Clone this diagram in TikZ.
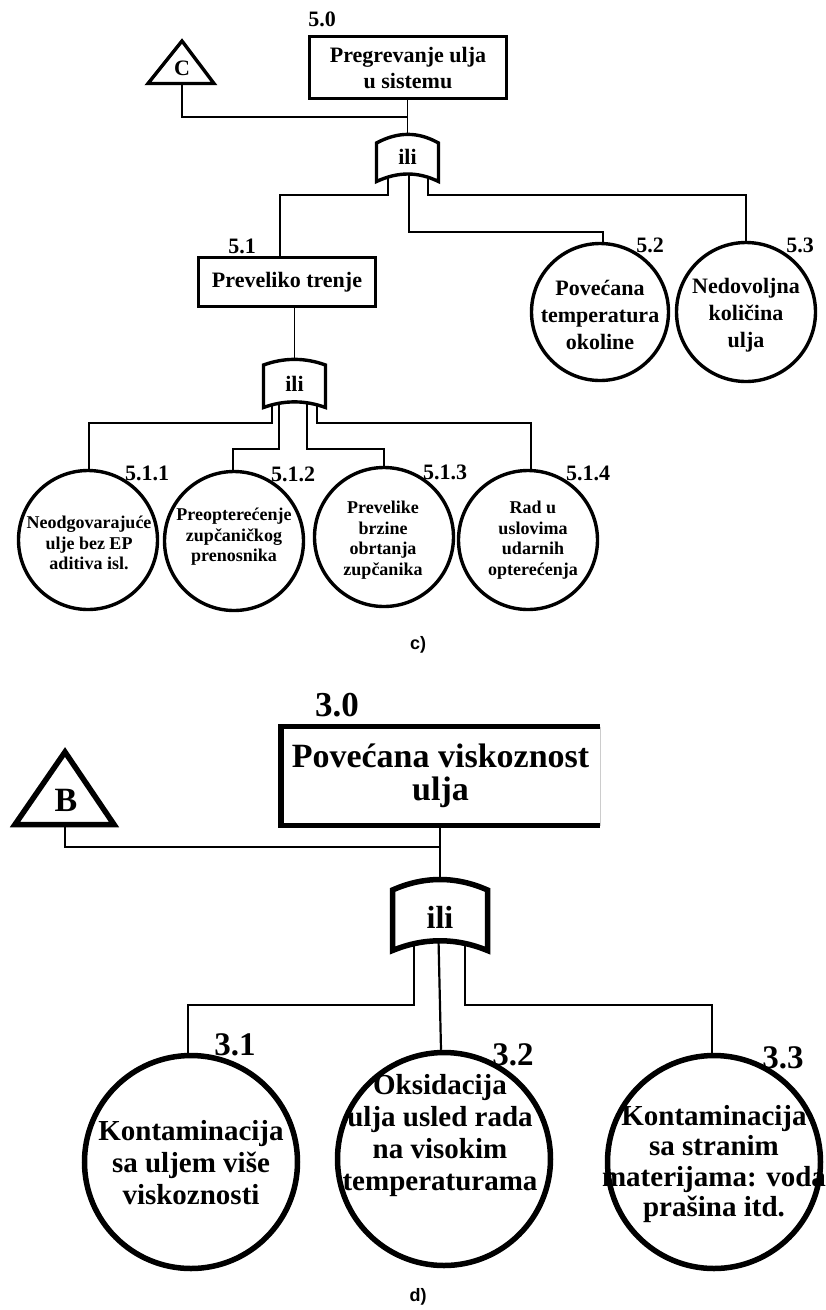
\documentclass[tikz,border=0pt]{standalone}
\usepackage{fontspec}
\setmainfont{Liberation Serif}
\newfontfamily\capfont{Liberation Sans}
\pgfdeclarelayer{paper}
\pgfdeclarelayer{wires}
\pgfsetlayers{paper,wires,main}
\begin{document}
\begin{tikzpicture}[x=1pt,y=-1pt,
  wire/.style={line width=1.6pt},
  wireD/.style={line width=2.2pt},
  shapeC/.style={draw,fill=white,line width=3.4pt,line join=miter},
  shapeD/.style={draw,fill=white,line width=5.5pt,line join=miter},
  evC/.style={shapeC,circle,minimum size=139pt,inner sep=0pt},
  evD/.style={shapeD,circle,minimum size=213pt,inner sep=0pt},
  txt/.style={align=center,inner sep=0pt},
  fC/.style={font=\fontsize{22}{26}\selectfont\bfseries},
  fCc/.style={font=\fontsize{22}{27}\selectfont\bfseries},
  fCs/.style={font=\fontsize{18}{20.5}\selectfont\bfseries},
  fD/.style={font=\fontsize{29}{32}\selectfont\bfseries},
  tagC/.style={inner sep=0pt,font=\fontsize{22}{22}\selectfont\bfseries},
  tagD/.style={inner sep=0pt,font=\fontsize{33}{33}\selectfont\bfseries},
  part/.style={inner sep=0pt,font=\capfont\fontsize{18}{18}\selectfont\bfseries}
]
\begin{pgfonlayer}{paper}
  \fill[white] (0,0) rectangle (826,1310);
\end{pgfonlayer}
\useasboundingbox (0,0) rectangle (826,1310);

% ===================== c) =====================
\node[tagC] (l50) at (322,19) {5.0};
\node[shapeC,rectangle,minimum width=197pt,minimum height=62pt,txt,fC] (b50) at (408,67.5) {Pregrevanje ulja\\u sistemu};

% transfer triangle C
\draw[shapeC] (182,41) -- (214,83.5) -- (148,83.5) -- cycle;
\node[tagC] (tC) at (182,68) {C};
\coordinate (tCb) at (182,83.5);
\coordinate (j1) at (408,117);

% OR gate under the top event
\draw[shapeC] (376.5,143) .. controls (398,131.5) and (418,131.5) .. (438.5,143)
  -- (438.5,181.5) .. controls (418,171.5) and (398,171.5) .. (376.5,181.5) -- cycle;
\node[fC,inner sep=0pt] (g1) at (407.5,157) {ili};

\node[tagC] (l51) at (242,246) {5.1};
\node[shapeC,rectangle,minimum width=177pt,minimum height=49pt,inner sep=0pt,fC] (b51) at (287,282) {Preveliko trenje};

% OR gate under 5.1
\draw[shapeC] (263.5,365) .. controls (284,357.5) and (305,357.5) .. (325.5,365)
  -- (325.5,407.5) .. controls (305,400) and (284,400) .. (263.5,407.5) -- cycle;
\node[fC,inner sep=0pt] (g2) at (294.5,384) {ili};

% basic events 5.2, 5.3
\node[evC,minimum size=137pt] (c52) at (600,312) {};
\node[evC,minimum size=139pt] (c53) at (746,312) {};
\node[txt,fCc] (t52) at (600,315) {Povećana\\temperatura\\okoline};
\node[txt,fCc] (t53) at (746,315) {Nedovoljna\\količina\\ulja};
\node[tagC] (l52) at (650,245) {5.2};
\node[tagC] (l53) at (800,245) {5.3};

% basic events 5.1.x
\node[evC] (c511) at (88,540) {};
\node[evC] (c512) at (234,541) {};
\node[evC] (c513) at (384,537) {};
\node[evC] (c514) at (528,540) {};
\node[txt,fCs] (t511) at (89,543) {Neodgovarajuće\\ulje bez EP\\aditiva isl.};
\node[txt,fCs] (t512) at (234,537) {Preopterećenje\\zupčaničkog\\prenosnika};
\node[txt,fCs] (t513) at (383,540) {Prevelike\\brzine\\obrtanja\\zupčanika};
\node[txt,fCs] (t514) at (533,540) {Rad u\\uslovima\\udarnih\\opterećenja};
\node[tagC] (l511) at (147,473) {5.1.1};
\node[tagC] (l512) at (293,474) {5.1.2};
\node[tagC] (l513) at (445,472) {5.1.3};
\node[tagC] (l514) at (588,473) {5.1.4};

\node[part] (pc) at (418,645) {c)};

% ===================== d) =====================
\node[tagD,font=\fontsize{35}{35}\selectfont\bfseries] (l30) at (337,705) {3.0};
\node[txt,font=\fontsize{34}{33}\selectfont\bfseries,minimum width=319pt,minimum height=99pt,outer sep=0pt] (b30) at (440.5,776) {Povećana viskoznost\\ulja};
\draw[line width=5.5pt,line join=miter] (b30.north east) -- (b30.north west) -- (b30.south west) -- (b30.south east);
\draw[line width=0.8pt,black!20] (b30.north east) -- (b30.south east);

% transfer triangle B
\draw[shapeD] (65,752) -- (114,824.5) -- (15,824.5) -- cycle;
\node[tagD,font=\fontsize{34}{34}\selectfont\bfseries] (tB) at (66,800) {B};
\coordinate (tBb) at (65,824.5);
\coordinate (j2) at (440,847);

% OR gate under 3.0
\draw[shapeD] (392.5,890) .. controls (424,876) and (456,876) .. (487.5,890)
  -- (487.5,950.5) .. controls (456,937.5) and (424,937.5) .. (392.5,950.5) -- cycle;
\node[inner sep=0pt,font=\fontsize{32}{32}\selectfont\bfseries] (g3) at (440,917) {ili};

% basic events 3.x
\node[evD] (c31) at (191,1162) {};
\node[evD] (c32) at (444,1159) {};
\node[evD] (c33) at (714,1162) {};
\node[txt,fD] (t31) at (191,1163) {Kontaminacija\\sa uljem više\\viskoznosti};
\node[txt,fD] (t32) at (440,1136) {Oksidacija\\ulja usled rada\\na visokim\\temperaturama};
\node[txt,fD,font=\fontsize{29}{30.5}\selectfont\bfseries] (t33) at (714,1164) {Kontaminacija\\sa stranim\\materijama: voda\\prašina itd.};
\node[tagD] (l31) at (235,1045) {3.1};
\node[tagD] (l32) at (513,1055) {3.2};
\node[tagD] (l33) at (783,1058) {3.3};

\node[part] (pd) at (418,1297) {d)};

% ===================== connectors =====================
\begin{pgfonlayer}{wires}
  % c)
  \draw[wire] (tCb) |- (j1);
  \draw[wire] (b50.south -| g1.center) -- (g1.center);
  \draw[wire] ([xshift=-19.5pt]g1.center) -- ++(0,38) -| ([xshift=-7pt]b51.north);
  \draw[wire] ([xshift=1.5pt]g1.center) -- ++(0,75) -| ([xshift=3pt]c52.north);
  \draw[wire] ([xshift=20.5pt]g1.center) -- ++(0,38) -| (c53.north);
  \draw[wire] (b51.south -| g2.center) -- (g2.center);
  \draw[wire] ([xshift=-22.5pt]g2.center) -- ++(0,39) -| ([xshift=1pt]c511.north);
  \draw[wire] ([xshift=-15.5pt]g2.center) -- ++(0,65) -| ([xshift=-1pt]c512.north);
  \draw[wire] ([xshift=12.5pt]g2.center) -- ++(0,65) -| (c513.north);
  \draw[wire] ([xshift=22.5pt]g2.center) -- ++(0,39) -| ([xshift=3pt]c514.north);
  % d)
  \draw[wireD] (tBb) |- (j2);
  \draw[wireD] (b30.south -| g3.center) -- (g3.center);
  \draw[wireD] ([xshift=-26pt]g3.center) -- ++(0,88) -| ([xshift=-3pt]c31.north);
  \draw[wireD] ([xshift=-2pt]g3.center) -- ([xshift=-3pt]c32.north);
  \draw[wireD] ([xshift=25pt]g3.center) -- ++(0,88) -| ([xshift=-2pt]c33.north);
\end{pgfonlayer}
\end{tikzpicture}
\end{document}
